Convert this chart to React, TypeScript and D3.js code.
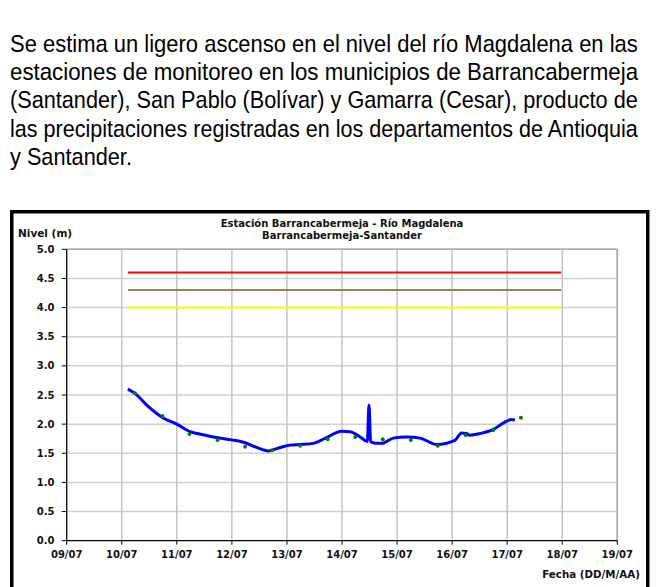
import React, { useLayoutEffect, useRef, useState } from 'react';
import * as d3 from 'd3';

// texto introductorio (justificado en el original)
const paragraph = [
  'Se estima un ligero ascenso en el nivel del río Magdalena en las',
  'estaciones de monitoreo en los municipios de Barrancabermeja',
  '(Santander), San Pablo (Bolívar) y Gamarra (Cesar), producto de',
  'las precipitaciones registradas en los departamentos de Antioquia',
  'y Santander.',
];
const paragraphWidths = [628, 628, 628, 628, 122];

const titleLines = ['Estación Barrancabermeja - Río Magdalena', 'Barrancabermeja-Santander'];

// eje x: días de julio
const dayTicks = [9, 10, 11, 12, 13, 14, 15, 16, 17, 18, 19];
const levelTicks = [0, 0.5, 1, 1.5, 2, 2.5, 3, 3.5, 4, 4.5, 5];

// niveles de alerta (roja, naranja, amarilla)
const alertLevels = [4.6, 4.3, 4.0];
const alertColors = ['#ff0000', '#a67c52', '#ffff00'];
const alertStart = 10.11;
const alertEnd = 17.98;

// nivel observado (línea azul)
const obsDays = [
  10.11, 10.25, 10.45, 10.73, 11.0, 11.24, 11.42, 11.72, 12.0, 12.21, 12.45, 12.66,
  12.88, 13.06, 13.24, 13.48, 13.72, 13.99, 14.15, 14.33, 14.46, 14.49, 14.52, 14.63,
  14.72, 14.93, 15.18, 15.42, 15.72, 16.05, 16.17, 16.26, 16.32, 16.51, 16.75, 16.93,
  17.08, 17.14,
];
const obsLevels = [
  2.6, 2.52, 2.33, 2.12, 2.0, 1.87, 1.83, 1.77, 1.73, 1.69, 1.6, 1.54,
  1.6, 1.64, 1.65, 1.67, 1.77, 1.88, 1.87, 1.78, 1.7, 2.33, 1.7, 1.67,
  1.67, 1.76, 1.78, 1.76, 1.65, 1.72, 1.85, 1.84, 1.81, 1.84, 1.91, 2.02,
  2.08, 2.07,
];

// pronóstico (puntos verdes)
const fcDays = [10.24, 10.74, 11.23, 11.74, 12.24, 12.73, 13.24, 13.74, 14.24, 14.74, 15.25, 15.74, 16.25, 16.75, 17.25];
const fcLevels = [2.53, 2.14, 1.83, 1.73, 1.61, 1.55, 1.63, 1.74, 1.78, 1.74, 1.73, 1.63, 1.81, 1.9, 2.11];

const W = 658;
const H = 587;
const plot = { left: 66.7, right: 617.3, top: 249.3, bottom: 540.7 };
const chartFont = '"DejaVu Sans", Verdana, sans-serif';
const textFont = '"Liberation Sans Narrow", "Arial Narrow", "Liberation Sans", Arial, sans-serif';

const App: React.FC = () => {
  const textRefs = useRef<(SVGTextElement | null)[]>([]);
  const [scales, setScales] = useState<number[]>(paragraph.map(() => 0.85));

  useLayoutEffect(() => {
    const s = paragraph.map((_, i) => {
      const el = textRefs.current[i];
      if (!el) return 0.85;
      const w = el.getComputedTextLength();
      return w > 0 ? paragraphWidths[i] / w : 0.85;
    });
    setScales(s);
  }, []);

  const x = d3.scaleLinear().domain([9, 19]).range([plot.left, plot.right]);
  const y = d3.scaleLinear().domain([0, 5]).range([plot.bottom, plot.top]);

  const obs = obsDays.map((d, i) => ({ d, v: obsLevels[i] }));
  const fc = fcDays.map((d, i) => ({ d, v: fcLevels[i] }));

  const line = d3
    .line<{ d: number; v: number }>()
    .curve(d3.curveMonotoneX)
    .x((p) => x(p.d))
    .y((p) => y(p.v));

  return (
    <svg width={W} height={H} style={{ position: 'absolute', left: 0, top: 0, background: '#fff' }}>
      {paragraph.map((t, i) => (
        <g key={i} transform={`translate(10,${51.7 + i * 28.3}) scale(${scales[i]},1)`}>
          <text
            ref={(el) => {
              textRefs.current[i] = el;
            }}
            x={0}
            y={0}
            fontFamily={textFont}
            fontSize={24}
            fill="#000"
          >
            {t}
          </text>
        </g>
      ))}

      <rect x={11.75} y={211.75} width={636} height={420} fill="#fff" stroke="#000" strokeWidth={3.5} />

      {/* rejilla */}
      <g>
        {levelTicks.slice(1).map((t) => (
          <line key={t} x1={plot.left} x2={plot.right} y1={y(t)} y2={y(t)} stroke="#d0d0d0" strokeWidth={1.5} />
        ))}
        {dayTicks.slice(1).map((t) => (
          <line key={t} x1={x(t)} x2={x(t)} y1={plot.top} y2={plot.bottom} stroke="#c4c4c4" strokeWidth={1.5} />
        ))}
        <line x1={plot.left} x2={plot.right} y1={plot.top} y2={plot.top} stroke="#a8a8a8" strokeWidth={1.5} />
        <line x1={plot.right} x2={plot.right} y1={plot.top} y2={plot.bottom} stroke="#a8a8a8" strokeWidth={1.5} />
      </g>

      {alertLevels.map((v, i) => (
        <line
          key={v}
          x1={x(alertStart)}
          x2={x(alertEnd)}
          y1={y(v)}
          y2={y(v)}
          stroke={alertColors[i]}
          strokeWidth={2}
        />
      ))}

      <path d={line(obs) ?? ''} fill="none" stroke="#0000ff" strokeWidth={3} strokeLinejoin="round" />

      {fc.map((p, i) => (
        <circle key={i} cx={x(p.d)} cy={y(p.v)} r={2} fill="#008000" />
      ))}

      {/* ejes */}
      <line x1={plot.left} x2={plot.left} y1={plot.top} y2={plot.bottom} stroke="#000" strokeWidth={1.3} />
      <line x1={plot.left} x2={plot.right} y1={plot.bottom} y2={plot.bottom} stroke="#000" strokeWidth={1.3} />
      {levelTicks.map((t) => (
        <g key={t}>
          <line x1={plot.left - 5} x2={plot.left} y1={y(t)} y2={y(t)} stroke="#000" strokeWidth={1} />
          <text
            x={54.5}
            y={y(t)}
            dy="0.36em"
            textAnchor="end"
            fontFamily={chartFont}
            fontWeight="bold"
            fontSize={10}
            fill="#111"
          >
            {t.toFixed(1)}
          </text>
        </g>
      ))}
      {dayTicks.map((t) => (
        <g key={t}>
          <line x1={x(t)} x2={x(t)} y1={plot.bottom} y2={plot.bottom + 4} stroke="#000" strokeWidth={1} />
          <text
            x={x(t)}
            y={558.3}
            textAnchor="middle"
            fontFamily={chartFont}
            fontWeight="bold"
            fontSize={10}
            fill="#111"
          >
            {String(t).padStart(2, '0')}/07
          </text>
        </g>
      ))}

      {titleLines.map((t, i) => (
        <text
          key={i}
          x={342}
          y={227.3 + i * 12}
          textAnchor="middle"
          fontFamily={chartFont}
          fontWeight="bold"
          fontSize={10}
          fill="#111"
        >
          {t}
        </text>
      ))}
      <text x={18} y={237} fontFamily={chartFont} fontWeight="bold" fontSize={10.5} fill="#111">
        Nivel (m)
      </text>
      <text x={640} y={577.7} textAnchor="end" fontFamily={chartFont} fontWeight="bold" fontSize={10.3} fill="#111">
        Fecha (DD/M/AA)
      </text>
    </svg>
  );
};

export default App;
